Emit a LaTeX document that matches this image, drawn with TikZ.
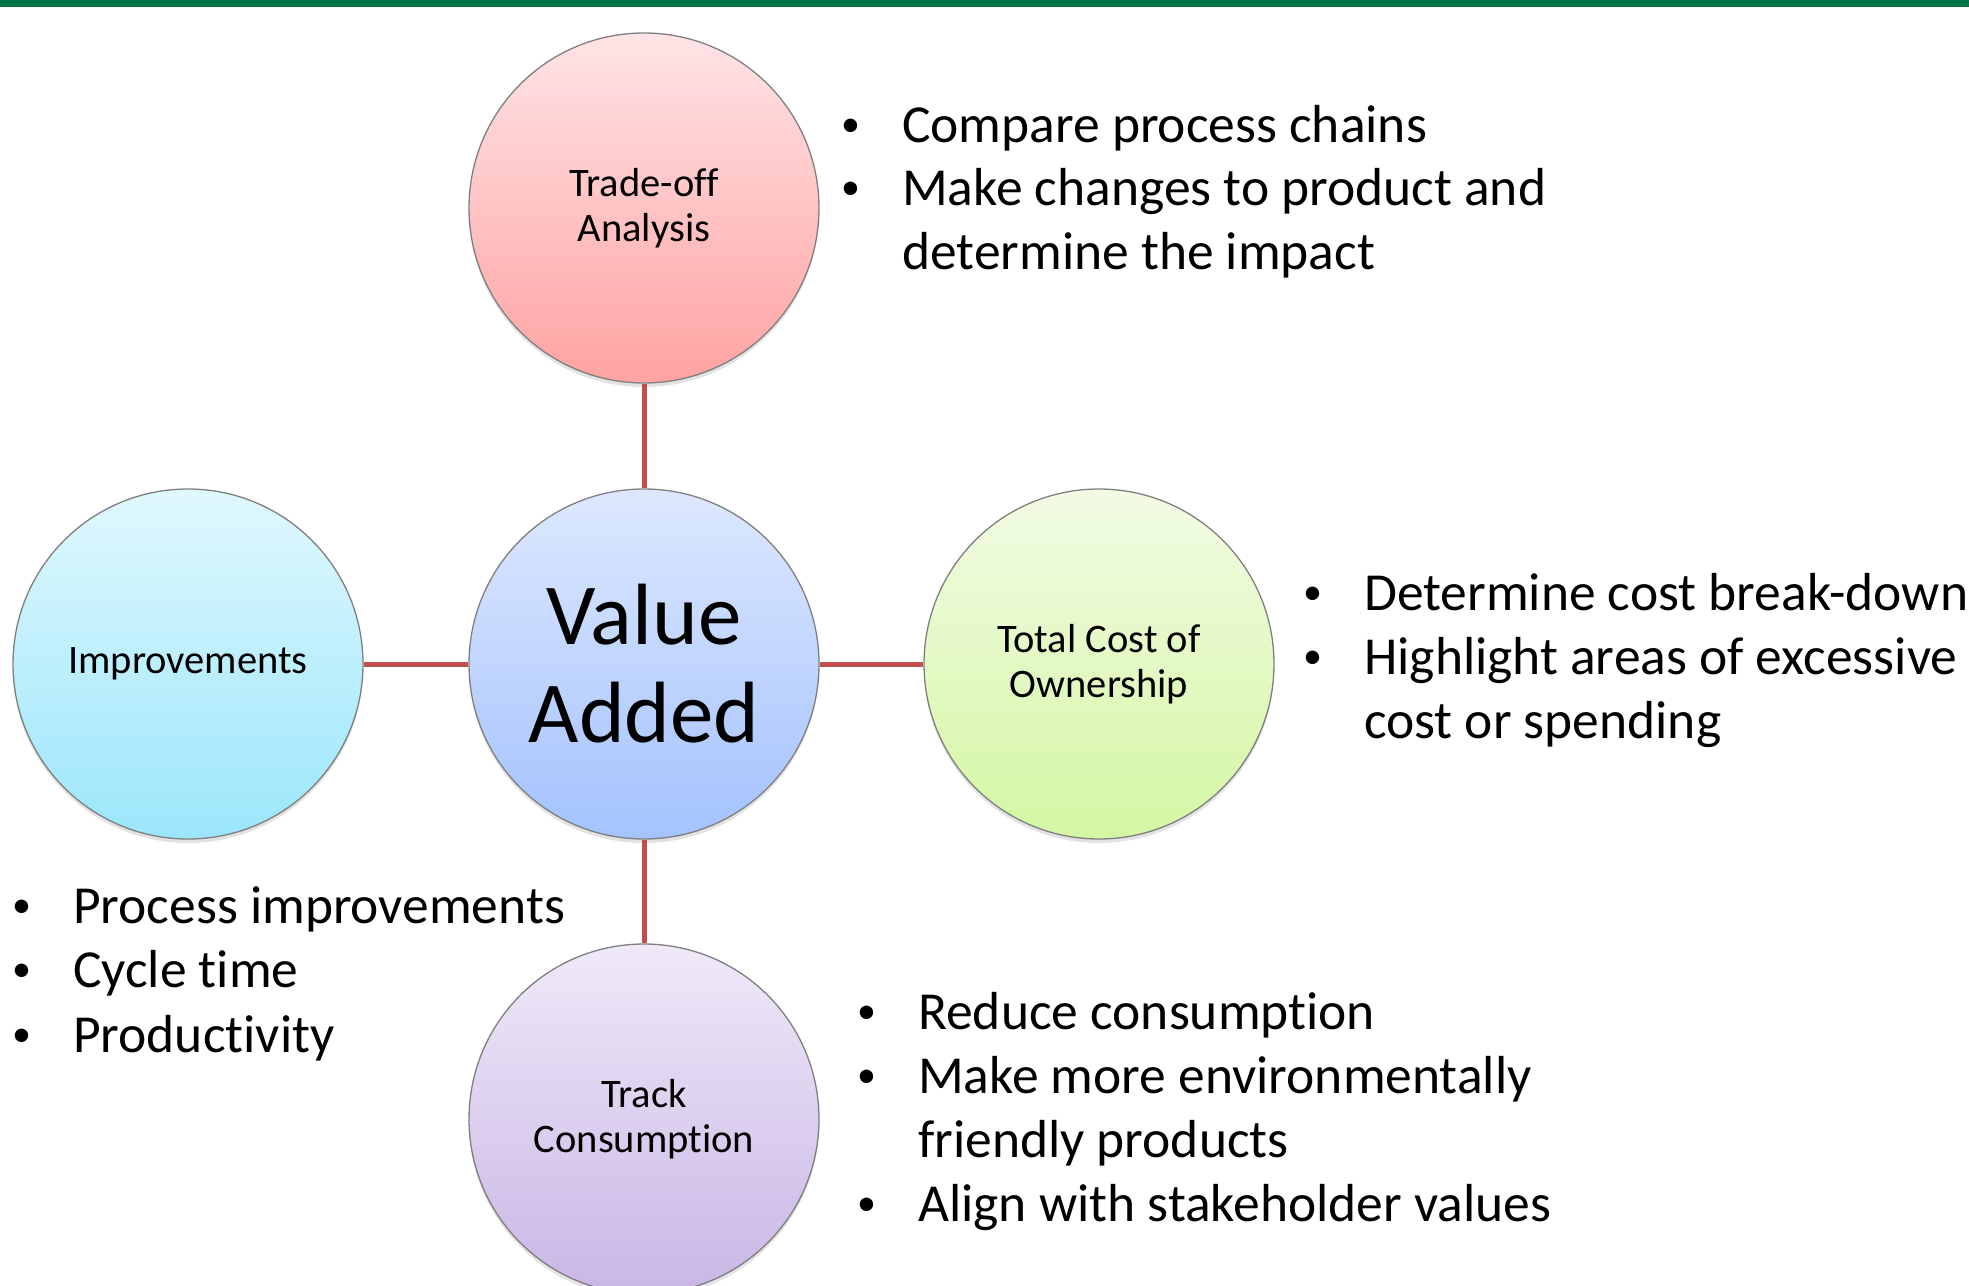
\documentclass[tikz,border=0pt]{standalone}
\usepackage{fontspec}
\setmainfont{Carlito}[Ligatures=NoCommon]
\usepackage{tikz}
\usetikzlibrary{shadows}

\definecolor{topgreen}{HTML}{007348}
\definecolor{linkred}{HTML}{C0504D}
\definecolor{rimgray}{HTML}{7F7F7F}

\newcommand\bitem{\makebox[59pt][l]{\hspace*{-2pt}\raisebox{6pt}{\fontsize{38}{38}\selectfont•}}}
\newcommand\bindent{\hspace*{59pt}}

\tikzset{
  bubble/.style={circle,minimum size=350pt,inner sep=0pt,draw=rimgray,line width=1.3pt,
    align=center,font=\fontsize{40.5}{45}\selectfont,
    drop shadow={opacity=.22,shadow xshift=0pt,shadow yshift=-4pt}},
  link/.style={draw=linkred,line width=5pt},
  note/.style={anchor=base west,inner sep=0pt,font=\fontsize{53.5}{63}\selectfont}
}

\begin{document}
\begin{tikzpicture}[x=1pt,y=-1pt]
 \useasboundingbox (0,0) rectangle (1969,1285);
 \clip (0,0) rectangle (1969,1285);
 \fill[topgreen] (0,0) rectangle (1969,7);

 \node at (644,208) [bubble,top color={rgb,255:red,255;green,228;blue,230},bottom color={rgb,255:red,255;green,163;blue,163}] (trade) {Trade-off\\Analysis};
 \node at (644,664) [bubble,top color={rgb,255:red,221;green,232;blue,254},bottom color={rgb,255:red,164;green,194;blue,254},font=\fontsize{87}{98}\selectfont] (value) {Value\\Added};
 \node at (188,664) [bubble,top color={rgb,255:red,224;green,248;blue,254},bottom color={rgb,255:red,155;green,230;blue,251}] (impr) {Improvements};
 \node at (1099,664) [bubble,top color={rgb,255:red,242;green,251;blue,229},bottom color={rgb,255:red,212;green,247;blue,163}] (tco) {Total Cost of\\Ownership};
 \node at (644,1119) [bubble,top color={rgb,255:red,239;green,233;blue,248},bottom color={rgb,255:red,201;green,182;blue,230}] (track) {Track\\Consumption};

 \draw[link] (trade)--(value);
 \draw[link] (impr)--(value);
 \draw[link] (value)--(tco);
 \draw[link] (value)--(track);

 % trade-off notes
 \node at (843,142) [note] (trade1) {\bitem Compare process chains};
 \node at (843,205.5) [note] (trade2) {\bitem Make changes to product and};
 \node at (843,269) [note] (trade3) {\bindent determine the impact};

 % cost notes
 \node at (1305,610) [note] (tco1) {\bitem Determine cost break-down};
 \node at (1305,674) [note] (tco2) {\bitem Highlight areas of excessive};
 \node at (1305,738) [note] (tco3) {\bindent cost or spending};

 % improvement notes
 \node at (14,923) [note] (impr1) {\bitem Process improvements};
 \node at (14,987) [note] (impr2) {\bitem Cycle time};
 \node at (14,1052) [note] (impr3) {\bitem Productivity};

 % consumption notes
 \node at (859,1029) [note] (track1) {\bitem Reduce consumption};
 \node at (859,1093) [note] (track2) {\bitem Make more environmentally};
 \node at (859,1157) [note] (track3) {\bindent friendly products};
 \node at (859,1221) [note] (track4) {\bitem Align with stakeholder values};
\end{tikzpicture}
\end{document}
